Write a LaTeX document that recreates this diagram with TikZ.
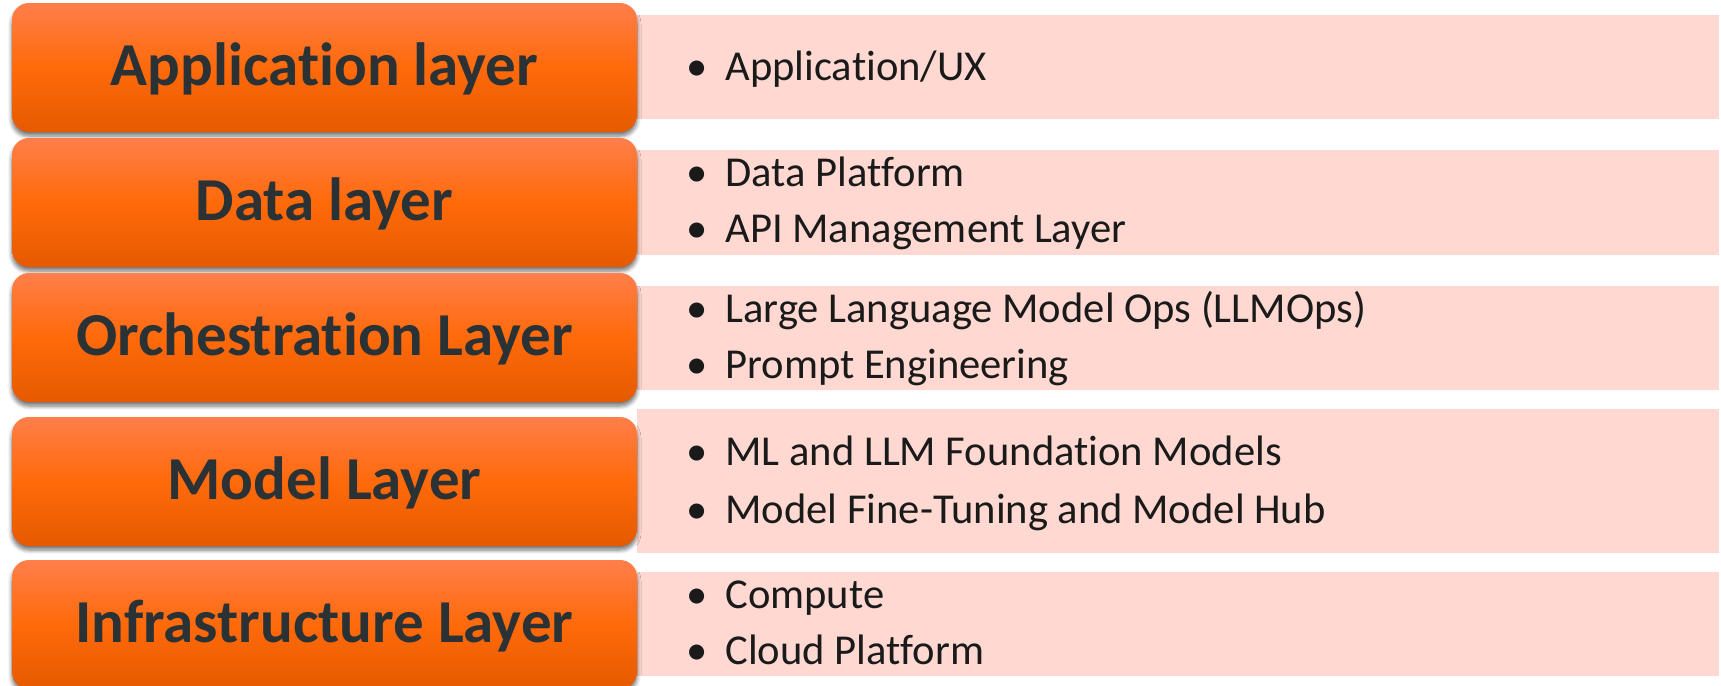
\documentclass[tikz,border=0pt]{standalone}
\usepackage{fontspec}
\setmainfont[Ligatures={NoCommon}]{Carlito}
\usetikzlibrary{shadows.blur}
\definecolor{oTop}{HTML}{FF7E4A}
\definecolor{oMid}{HTML}{FF6A0A}
\definecolor{oBot}{HTML}{E55A00}
\definecolor{bandpink}{HTML}{FED8D1}
\definecolor{labelgray}{HTML}{2B3236}
\definecolor{itemblack}{HTML}{1A1A1A}
\tikzset{
  layerbox/.style={rectangle, rounded corners=8.5pt, top color=oTop, bottom color=oBot, middle color=oMid,
    blur shadow={shadow xshift=0pt, shadow yshift=-2pt, shadow blur radius=2pt, shadow blur steps=6, shadow opacity=55},
    draw=none, inner sep=0pt, minimum width=312.5pt},
  band/.style={rectangle, fill=bandpink, draw=none, inner sep=0pt, minimum width=541pt},
  layerlabel/.style={anchor=base, font=\fontsize{30.5}{36}\selectfont\bfseries, text=labelgray, inner sep=0pt},
  itemtext/.style={anchor=base west, font=\fontsize{21.3}{25}\selectfont, text=itemblack, inner sep=0pt},
  itemdot/.style={anchor=base, font=\fontsize{21.3}{25}\selectfont, text=itemblack, inner sep=0pt}
}
\begin{document}
\begin{tikzpicture}[x=0.5pt, y=-0.5pt]
\useasboundingbox (0,0) rectangle (1721,686);
% bands
\node[band, minimum height=52pt] (appB) at (1178,67) {};
\node[band, minimum height=52.5pt] (dataB) at (1178,202.5) {};
\node[band, minimum height=52pt] (orchB) at (1178,338) {};
\node[band, minimum height=72pt] (modelB) at (1178,481) {};
\node[band, minimum height=52pt] (infraB) at (1178,624) {};
% boxes
\node[layerbox, minimum height=64.5pt] (app) at (324.5,67.5) {};
\node[layerbox, minimum height=64.5pt] (data) at (324.5,202.5) {};
\node[layerbox, minimum height=64.5pt] (orch) at (324.5,337.5) {};
\node[layerbox, minimum height=64.5pt] (model) at (324.5,481.5) {};
\node[layerbox, minimum height=64.5pt] (infra) at (324.5,624.5) {};
% labels
\node[layerlabel] (appL) at (324.5,85.5) {Application layer};
\node[layerlabel] (dataL) at (324.5,220.5) {Data layer};
\node[layerlabel] (orchL) at (324.5,355.5) {Orchestration Layer};
\node[layerlabel] (modelL) at (324.5,499.5) {Model Layer};
\node[layerlabel] (infraL) at (324.5,642.5) {Infrastructure Layer};
% items
\node[itemdot] (d1) at (697,80) {•};
\node[itemtext] (t1) at (725,80) {Application/UX};
\node[itemdot] (d2) at (697,186) {•};
\node[itemtext] (t2) at (725,186) {Data Platform};
\node[itemdot] (d3) at (697,242) {•};
\node[itemtext] (t3) at (725,242) {API Management Layer};
\node[itemdot] (d4) at (697,322) {•};
\node[itemtext] (t4) at (725,322) {Large Language Model Ops (LLMOps)};
\node[itemdot] (d5) at (697,378) {•};
\node[itemtext] (t5) at (725,378) {Prompt Engineering};
\node[itemdot] (d6) at (697,465) {•};
\node[itemtext] (t6) at (725,465) {ML and LLM Foundation Models};
\node[itemdot] (d7) at (697,523) {•};
\node[itemtext] (t7) at (725,523) {Model Fine-Tuning and Model Hub};
\node[itemdot] (d8) at (697,608) {•};
\node[itemtext] (t8) at (725,608) {Compute};
\node[itemdot] (d9) at (697,664) {•};
\node[itemtext] (t9) at (725,664) {Cloud Platform};
\end{tikzpicture}
\end{document}
